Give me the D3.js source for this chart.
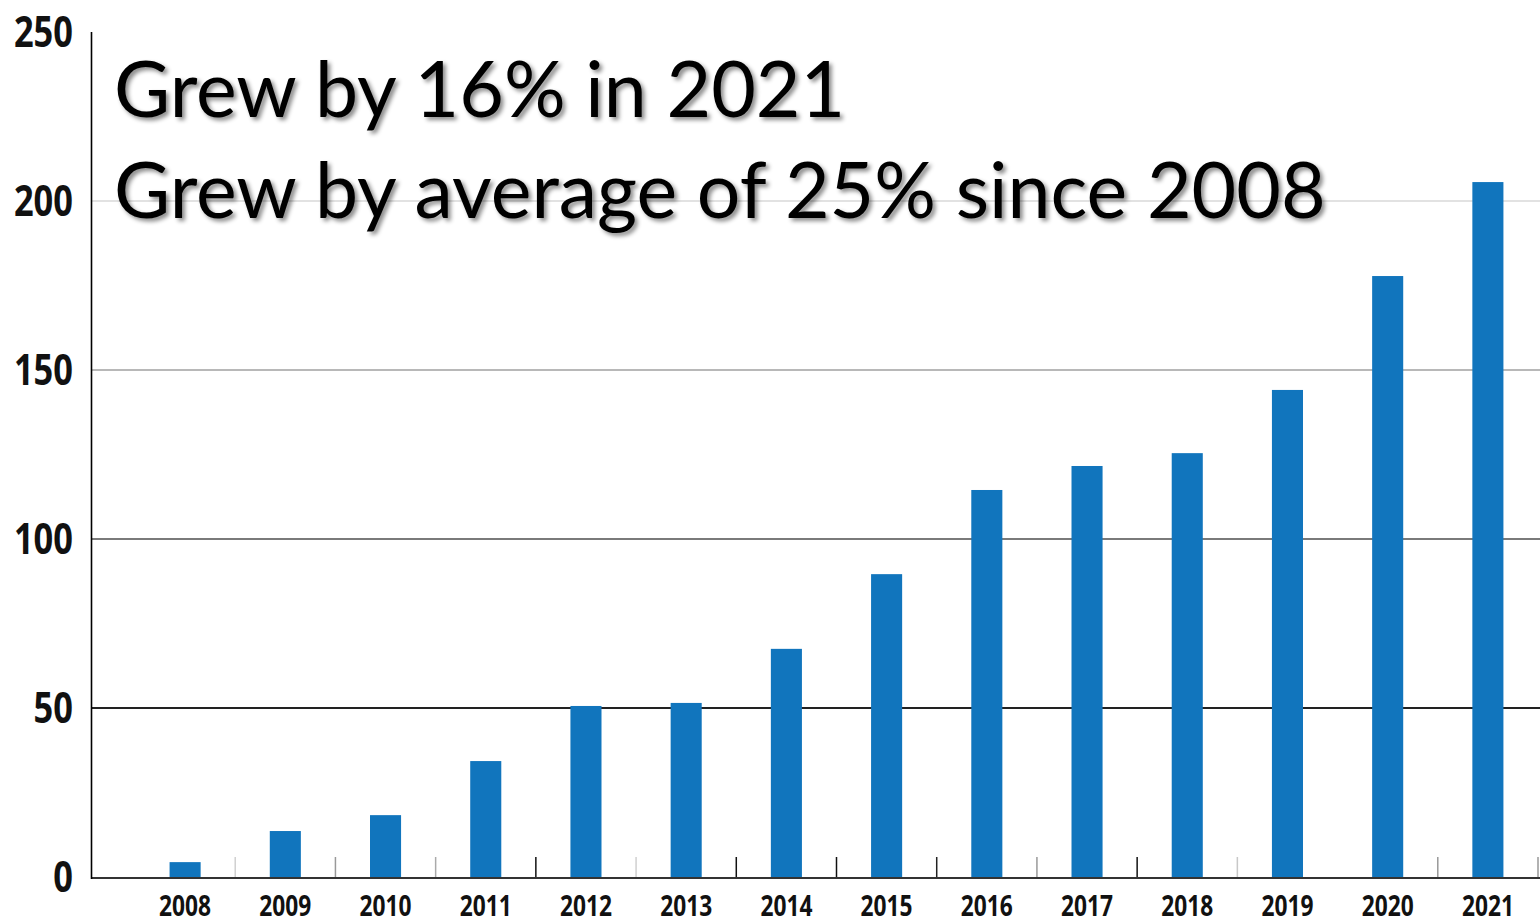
<!DOCTYPE html>
<html><head><meta charset="utf-8">
<script src="https://cdn.jsdelivr.net/npm/d3@7"></script>
<style>
html,body{margin:0;padding:0;background:#fff;overflow:hidden;}
svg{display:block;}
.lbl{font-family:"Open Sans","DejaVu Sans",sans-serif;font-weight:bold;fill:#111;}
.ttl{font-family:Lato,"Open Sans",sans-serif;fill:#000;}
</style></head>
<body>
<svg id="c" width="1540" height="923"></svg>
<script>
const years = ["2008","2009","2010","2011","2012","2013","2014","2015","2016","2017","2018","2019","2020","2021"];
const values = [4.4, 13.6, 18.3, 34.3, 50.6, 51.5, 67.5, 89.6, 114.5, 121.6, 125.4, 144.1, 177.8, 205.6];
const yTicks = [0, 50, 100, 150, 200, 250];
const titleLines = ["Grew by 16% in 2021", "Grew by average of 25% since 2008"];
const gridColors = {50:"#222", 100:"#7a7a7a", 150:"#b8b8b8", 200:"#e2e2e2"};
const tickColors = ["#d0d0d0","#999","#aaa","#111","#d0d0d0","#111","#111","#222","#999","#111","#c8c8c8",null,"#999","#999"];

const svg = d3.select("#c");
const x = d3.scaleBand().domain(years).range([135, 1538]).paddingInner(0.69).paddingOuter(0.345);
const y = d3.scaleLinear().domain([0, 250]).range([877, 32]);

// gridlines
svg.append("g").selectAll("line").data(yTicks.filter(t => t > 0 && t < 250)).join("line")
  .attr("x1", 92).attr("x2", 1540)
  .attr("y1", d => y(d)).attr("y2", d => y(d))
  .attr("stroke", d => gridColors[d]).attr("stroke-width", 2);

// bars
svg.append("g").selectAll("rect").data(years).join("rect")
  .attr("x", d => x(d)).attr("width", x.bandwidth())
  .attr("y", (d, i) => y(values[i])).attr("height", (d, i) => y(0) - y(values[i]))
  .attr("fill", "#1175bd");

// category boundary ticks
const step = x.step();
svg.append("g").selectAll("line").data(years.map((d, i) => ({d, c: tickColors[i]})).filter(o => o.c)).join("line")
  .attr("x1", o => x(o.d) + x.bandwidth() / 2 + step / 2)
  .attr("x2", o => x(o.d) + x.bandwidth() / 2 + step / 2)
  .attr("y1", y(0) - 20).attr("y2", y(0))
  .attr("stroke", o => o.c).attr("stroke-width", 1.5);

// baseline
svg.append("line").attr("x1", 91).attr("x2", 1540).attr("y1", y(0) + 1).attr("y2", y(0) + 1)
  .attr("stroke", "#333").attr("stroke-width", 2);
// y axis line
svg.append("line").attr("x1", 91.5).attr("x2", 91.5).attr("y1", 32).attr("y2", y(0) + 2)
  .attr("stroke", "#000").attr("stroke-width", 1.6);

// y labels (condensed look)
svg.append("g").selectAll("text").data(yTicks).join("text")
  .attr("class", "lbl").attr("x", 73).attr("y", d => y(d))
  .attr("dy", "0.36em").attr("text-anchor", "end").attr("font-size", 43)
  .attr("textLength", d => String(d).length * 19.7).attr("lengthAdjust", "spacingAndGlyphs")
  .text(d => d);

// x labels
svg.append("g").selectAll("text").data(years).join("text")
  .attr("class", "lbl").attr("x", d => x(d) + x.bandwidth() / 2).attr("y", 916)
  .attr("text-anchor", "middle").attr("font-size", 29)
  .attr("textLength", 52).attr("lengthAdjust", "spacingAndGlyphs")
  .text(d => d);

// title with shadow
const defs = svg.append("defs");
const f = defs.append("filter").attr("id", "sh").attr("x", "-5%").attr("y", "-20%").attr("width", "110%").attr("height", "150%");
f.append("feDropShadow").attr("dx", 3).attr("dy", 3).attr("stdDeviation", 2)
  .attr("flood-color", "#000").attr("flood-opacity", 0.45);
svg.append("g").attr("filter", "url(#sh)").selectAll("text").data(titleLines).join("text")
  .attr("class", "ttl").attr("x", 114).attr("y", (d, i) => 117 + i * 101)
  .attr("font-size", 77).text(d => d);
</script>
</body></html>
